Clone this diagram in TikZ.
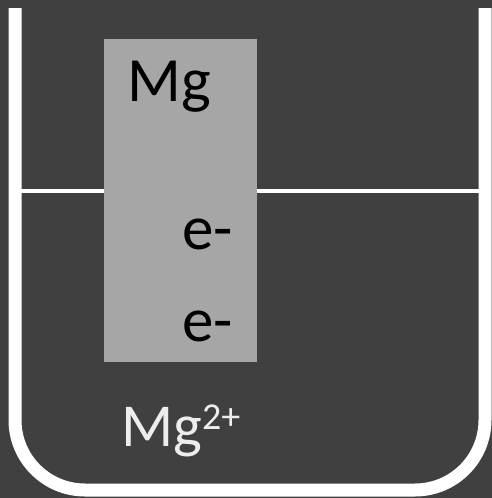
\documentclass[tikz,border=0pt]{standalone}
\usepackage{fontspec}
\setmainfont{Carlito}
\definecolor{bg}{HTML}{404040}
\definecolor{metal}{HTML}{A6A6A6}
\definecolor{ion}{HTML}{EDEDED}
\begin{document}
\begin{tikzpicture}[x=1pt,y=-1pt,
  wall/.style={draw=white,line width=13pt,rounded corners=70pt},
  water/.style={draw=white,line width=4.5pt},
  bigtext/.style={font=\fontsize{63}{70}\selectfont,inner sep=0pt,anchor=base west}]
\fill[bg] (0,0) rectangle (492,498);
\useasboundingbox (0,0) rectangle (492,498);
\coordinate (wl) at (15,191);
\coordinate (wr) at (485,191);
\coordinate (tl) at (15,8);
\coordinate (bl) at (15,490);
\coordinate (br) at (485,490);
\coordinate (tr) at (485,8);
\draw[water] (wl) -- (wr);
\draw[wall] (tl) -- (bl) -- (br) -- (tr);
\node[fill=metal,minimum width=153pt,minimum height=323pt,inner sep=0pt,anchor=north west] (rod) at (104,39) {};
\node[bigtext,text=black] (mg) at (127,101) {Mg};
\node[bigtext,text=black] (e1) at (182,249) {e-};
\node[bigtext,text=black] (e2) at (182,341) {e-};
\node[bigtext,text=ion,font=\fontsize{61}{70}\selectfont] (ion) at (121,446) {Mg\raisebox{17pt}{\fontsize{38}{40}\selectfont 2+}};
\end{tikzpicture}
\end{document}
